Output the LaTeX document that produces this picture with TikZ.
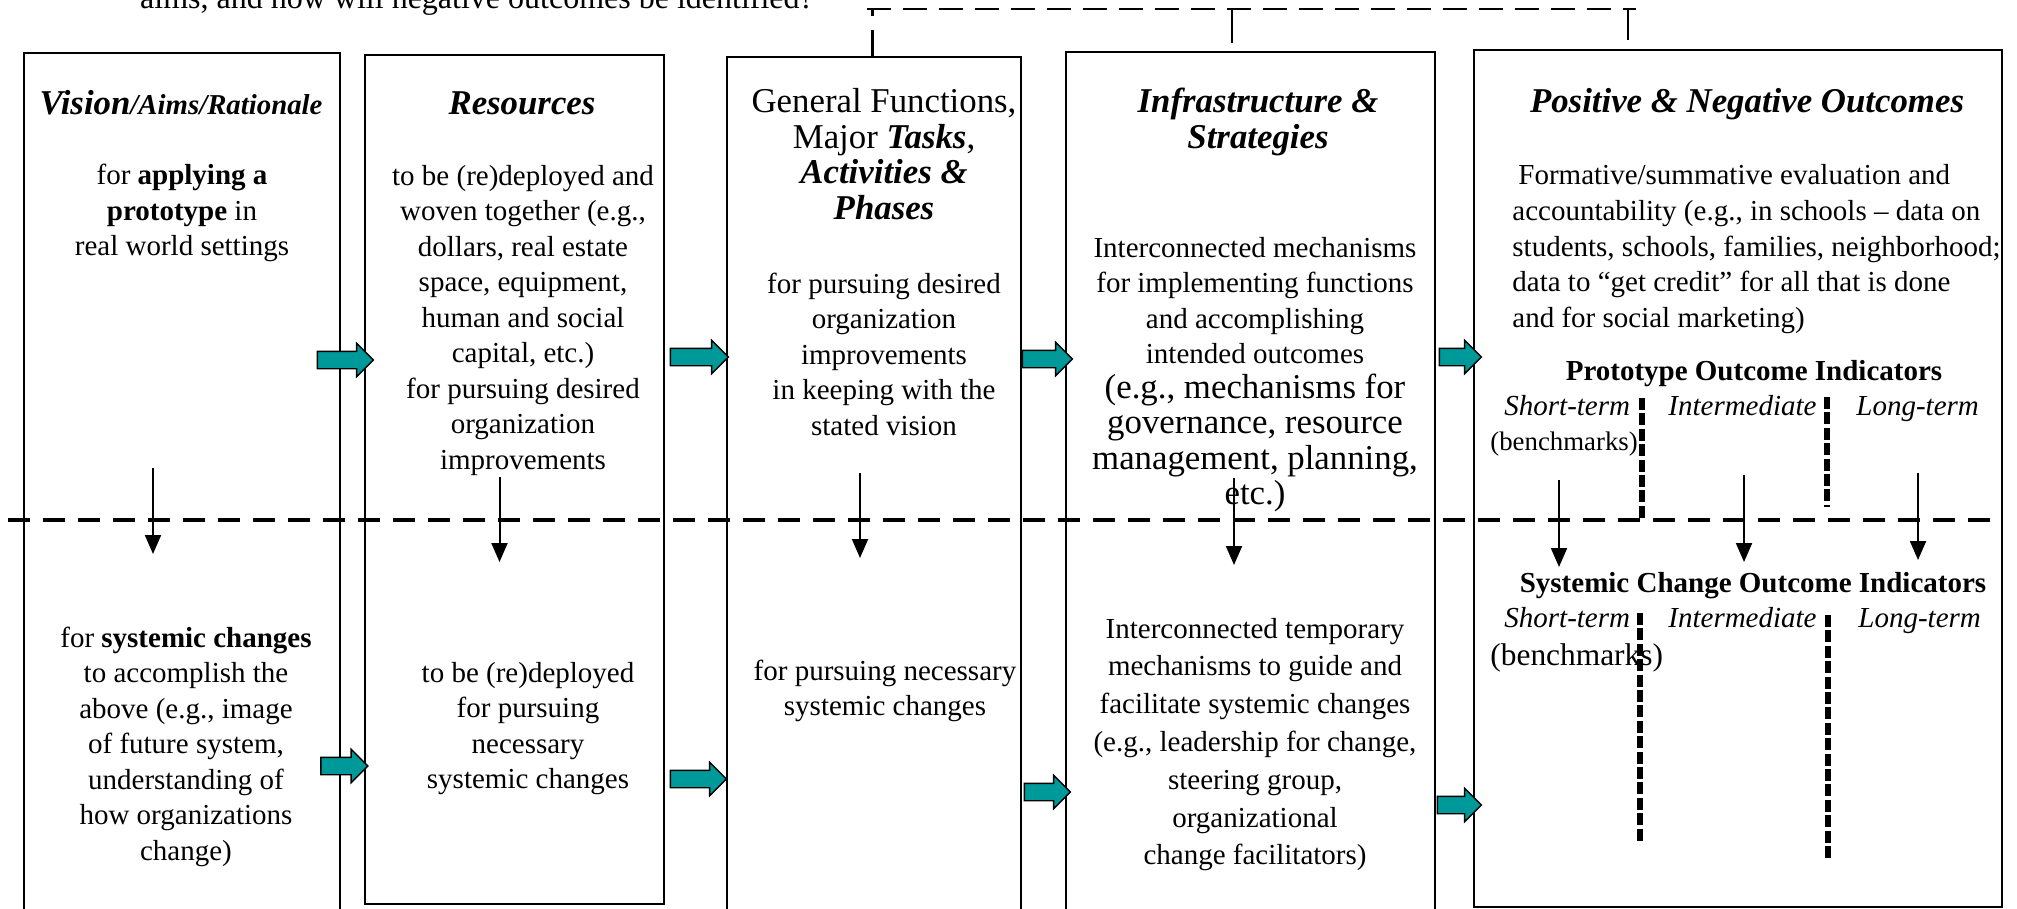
\documentclass[tikz,border=0pt]{standalone}
\usepackage{fontspec}
\setmainfont{Liberation Serif}
\usetikzlibrary{arrows.meta,shapes.arrows,fit}
\definecolor{tealarrow}{RGB}{0,153,153}
\newcommand\fsz[2]{\fontsize{#1}{#2}\selectfont}
\begin{document}
\begin{tikzpicture}[x=0.5pt,y=-0.5pt,
  box/.style={draw, line width=1pt, inner sep=0pt},
  body/.style={font=\fsz{14.5pt}{17.75pt}, align=center, inner sep=0pt, anchor=base},
  bodyl/.style={font=\fsz{14.5pt}{17.75pt}, align=left, inner sep=0pt, anchor=base west},
  big/.style={font=\fsz{17.4pt}{17.75pt}, align=center, inner sep=0pt, anchor=base},
  head/.style={font=\bfseries\itshape\fsz{17.4pt}{17.75pt}, align=center, inner sep=0pt, anchor=base},
  term/.style={font=\itshape\fsz{14.5pt}{17.75pt}, inner sep=0pt, anchor=base west},
  blockarrow/.style={shape=single arrow, draw=black, fill=tealarrow, line width=0.7pt, inner sep=0pt, text height=8pt, text depth=0pt, minimum width=16pt, single arrow head extend=4pt, single arrow tip angle=90},
  down/.style={line width=1pt, -{Triangle[width=8pt,length=9.5pt]}},
  middash/.style={line width=2.3pt, dash pattern=on 11pt off 6.5pt},
  thickdash/.style={line width=2.7pt, dash pattern=on 6pt off 1.7pt},
  topdash/.style={line width=1.4pt, dash pattern=on 12pt off 6pt},
]
\useasboundingbox (0,0) rectangle (2017,909);

% top text (cut by the page edge)
\node[body, font=\fsz{16pt}{19pt}] (toptext) at (477,9) {aims, and how will negative outcomes be identified?};

% boxes
\node[box, fit={(24,53) (340,915)}] (b1) {};
\node[box, fit={(365,55) (664,904)}] (b2) {};
\node[box, fit={(727,57) (1021,915)}] (b3) {};
\node[box, fit={(1066,52) (1435,915)}] (b4) {};
\node[box, fit={(1474,50) (2002,907)}] (b5) {};

% top dashed feedback line
\coordinate (tl) at (867,9);
\coordinate (tr) at (1636,9);
\coordinate (c3) at (872,9);
\coordinate (c4) at (1232,9);
\coordinate (c4e) at (1232,43);
\coordinate (c5) at (1628,9);
\coordinate (c5e) at (1628,40);
\draw[topdash] (tl) -- (tr);
\draw[line width=1.5pt, dash pattern=on 13pt off 7pt on 5pt off 100pt] (b3.north -| c3) -- (c3);
\draw[line width=1.2pt] (c4) -- (c4e);
\draw[line width=1.2pt] (c5) -- (c5e);

% (multi-line nodes: the base anchor is the baseline of the last line)
% box 1
\node[font=\bfseries\itshape\fsz{17.4pt}{17.75pt}, inner sep=0pt, anchor=base] (h1) at (181,115) {Vision{\fsz{14.4pt}{17.75pt}/Aims/Rationale}};
\node[body] (t1) at (182,256) {for \textbf{applying a}\\ \textbf{prototype} in\\ real world settings};
\node[body] (t1b) at (186,860) {for \textbf{systemic changes}\\ to accomplish the\\ above (e.g., image\\ of future system,\\ understanding of\\ how organizations\\ change)};

% box 2
\node[head] (h2) at (522,115) {Resources};
\node[body] (t2) at (523,469) {to be (re)deployed and\\ woven together (e.g.,\\ dollars, real estate\\ space, equipment,\\ human and social\\ capital, etc.)\\ for pursuing desired\\ organization\\ improvements};
\node[body] (t2b) at (528,788.5) {to be (re)deployed\\ for pursuing\\ necessary\\ systemic changes};

% box 3
\node[big] (h3) at (884,219.5) {General Functions,\\ Major \textbf{\textit{Tasks}},\\ \textbf{\textit{Activities \&}}\\ \textbf{\textit{Phases}}};
\node[body] (t3) at (884,435) {for pursuing desired\\ organization\\ improvements\\ in keeping with the\\ stated vision};
\node[body] (t3b) at (885,715.5) {for pursuing necessary\\ systemic changes};

% box 4
\node[head] (h4) at (1258,148.5) {Infrastructure \&\\ Strategies};
\node[body] (t4) at (1255,363.5) {Interconnected mechanisms\\ for implementing functions\\ and accomplishing\\ intended outcomes};
\node[big] (t4e) at (1255,504.5) {(e.g., mechanisms for\\ governance, resource\\ management, planning,\\ etc.)};
\node[body, font=\fsz{14.5pt}{18.9pt}] (t4b) at (1255,864.8) {Interconnected temporary\\ mechanisms to guide and\\ facilitate systemic changes\\ (e.g., leadership for change,\\ steering group,\\ organizational\\ change facilitators)};

% box 5
\node[head] (h5) at (1747,113) {Positive \& Negative Outcomes};
\node[bodyl] (t5) at (1512,327) {\hspace{3pt}Formative/summative evaluation and\\ accountability (e.g., in schools – data on\\ students, schools, families, neighborhood;\\ data to “get credit” for all that is done\\ and for social marketing)};
\node[body, font=\bfseries\fsz{14.5pt}{17.75pt}] (proto) at (1754,380) {Prototype Outcome Indicators};
\node[term] (ps) at (1504,415) {Short-term};
\node[term] (pi) at (1668,415) {Intermediate};
\node[term] (pl) at (1856,415) {Long-term};
\node[inner sep=0pt, anchor=base west, font=\fsz{13.4pt}{16pt}] (pb) at (1490,450) {(benchmarks)};

\node[body, font=\bfseries\fsz{14.5pt}{17.75pt}] (sys) at (1753,592) {Systemic Change Outcome Indicators};
\node[term] (ss) at (1504,627) {Short-term};
\node[term] (si) at (1668,627) {Intermediate};
\node[term] (sl) at (1858,627) {Long-term};
\node[inner sep=0pt, anchor=base west, font=\fsz{15.7pt}{18pt}] (sb) at (1490,665) {(benchmarks)};

% dashed lines
\draw[middash] (8,520) -- (1990,520);
\draw[thickdash] (1642,398) -- (1642,520);
\draw[thickdash] (1827,397) -- (1827,507);
\draw[thickdash] (1640,613) -- (1640,843);
\draw[thickdash] (1828,615) -- (1828,858);

% down arrows
\coordinate (d1s) at (153,468);   \coordinate (d1e) at (153,554);
\coordinate (d2s) at (499.5,477); \coordinate (d2e) at (499.5,562);
\coordinate (d3s) at (860,473);   \coordinate (d3e) at (860,558);
\coordinate (d4s) at (1234,478);  \coordinate (d4e) at (1234,565);
\coordinate (d5s) at (1559,480);  \coordinate (d5e) at (1559,567);
\coordinate (d6s) at (1744,475);  \coordinate (d6e) at (1744,562);
\coordinate (d7s) at (1918,473);  \coordinate (d7e) at (1918,560);
\foreach \i in {1,...,7} {\draw[down] (d\i s) -- (d\i e);}

% block arrows
\node[blockarrow, minimum height=28pt] (a1) at (341,360) {};
\node[blockarrow, minimum height=29pt] (a2) at (695,357) {};
\node[blockarrow, minimum height=25pt] (a3) at (1043,359) {};
\node[blockarrow, minimum height=21pt] (a4) at (1456,357) {};
\node[blockarrow, minimum height=23.5pt] (a5) at (340,766) {};
\node[blockarrow, minimum height=28pt] (a6) at (694,779) {};
\node[blockarrow, minimum height=23pt] (a7) at (1043,792) {};
\node[blockarrow, minimum height=22pt] (a8) at (1455,805) {};
\end{tikzpicture}
\end{document}
